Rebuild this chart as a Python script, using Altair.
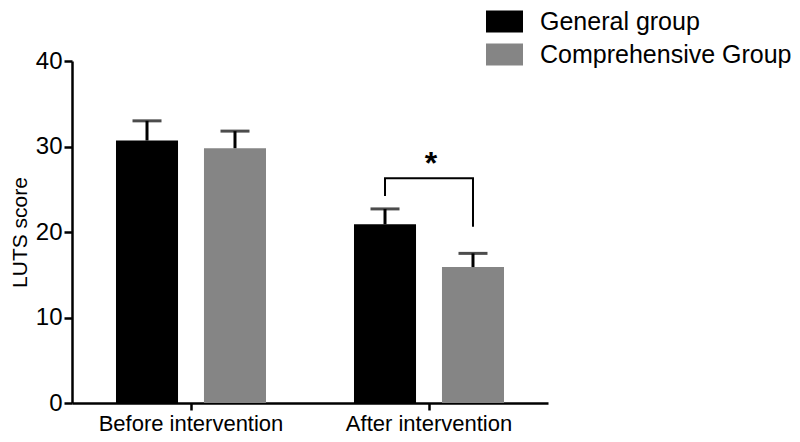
import altair as alt
import pandas as pd

groups = ["Before intervention", "After intervention"]
series = ["General group", "Comprehensive Group"]
mean_general = [30.7, 20.9]
mean_comp = [29.8, 15.9]
err_general = [2.3, 1.8]
err_comp = [2.0, 1.6]
colors = ["#000000", "#858585"]

# significance bracket (After intervention) values
bracket_series = ["General group", "General group", "Comprehensive Group", "Comprehensive Group"]
bracket_y = [24.2, 26.3, 26.3, 20.6]
star_y = 28.0

rows = []
for i, g in enumerate(groups):
    rows.append({"group": g, "series": series[0], "mean": mean_general[i], "top": mean_general[i] + err_general[i]})
    rows.append({"group": g, "series": series[1], "mean": mean_comp[i], "top": mean_comp[i] + err_comp[i]})
df = pd.DataFrame(rows)

br = pd.DataFrame({"group": [groups[1]] * 4, "series": bracket_series, "y": bracket_y, "order": [0, 1, 2, 3]})
star = pd.DataFrame({"group": [groups[1]], "y": [star_y], "label": ["*"]})

FONT = "Liberation Sans"
xenc = alt.X("group:N", sort=groups, scale=alt.Scale(paddingInner=0, paddingOuter=0),
             axis=alt.Axis(title=None, labelAngle=0, labelFontSize=22, labelFont=FONT, labelColor="#000",
                           labelLimit=0, domainColor="#000", domainWidth=2.5, tickColor="#000",
                           tickWidth=2.5, tickSize=7, labelPadding=3))
xoff = alt.XOffset("series:N", sort=series, scale=alt.Scale(paddingInner=0.295, paddingOuter=0.5))
yscale = alt.Scale(domain=[0, 40], nice=False)
yaxis = alt.Axis(title="LUTS score", values=[0, 10, 20, 30, 40], grid=False, labelFontSize=24,
                 labelFont=FONT, labelColor="#000", titleFont=FONT, titleFontSize=21,
                 titleFontWeight="normal", titleColor="#000", domainColor="#000", domainWidth=2.5,
                 tickColor="#000", tickWidth=2.5, tickSize=8, labelPadding=2, titlePadding=5)

bars = alt.Chart(df).mark_bar().encode(
    x=xenc, xOffset=xoff,
    y=alt.Y("mean:Q", scale=yscale, axis=yaxis),
    color=alt.Color("series:N", sort=series, scale=alt.Scale(domain=series, range=colors),
                    legend=alt.Legend(title=None, orient="none", legendX=414, legendY=-58,
                                      symbolType="M-1,-0.6H1V0.6H-1Z", symbolSize=1369,
                                      symbolStrokeWidth=0, symbolOpacity=1,
                                      labelFont=FONT, labelFontSize=25, labelColor="#000",
                                      labelLimit=0, labelOffset=17, rowPadding=1, padding=0)),
)

stems = alt.Chart(df).mark_rule(color="#000", strokeWidth=3).encode(
    x=xenc, xOffset=xoff, y=alt.Y("mean:Q", scale=yscale), y2="top:Q")
caps = alt.Chart(df).mark_tick(color="#000", thickness=3, size=29).encode(
    x=xenc, xOffset=xoff, y=alt.Y("top:Q", scale=yscale))

bracket = alt.Chart(br).mark_line(color="#000", strokeWidth=2).encode(
    x=xenc, xOffset=xoff, y=alt.Y("y:Q", scale=yscale), order="order:Q")

star_t = alt.Chart(star).mark_text(fontSize=32, fontWeight="bold", font=FONT, color="#000",
                                   baseline="middle", dx=2).encode(
    x=xenc, y=alt.Y("y:Q", scale=yscale), text="label:N")

chart = alt.layer(bars, stems, caps, bracket, star_t).properties(
    width=476, height=342,
    autosize=alt.AutoSizeParams(type="none"),
    padding={"left": 64, "top": 53, "right": 244, "bottom": 31},
).configure_view(stroke=None)

chart.save("out.html", embed_options={"renderer": "svg", "actions": False})
